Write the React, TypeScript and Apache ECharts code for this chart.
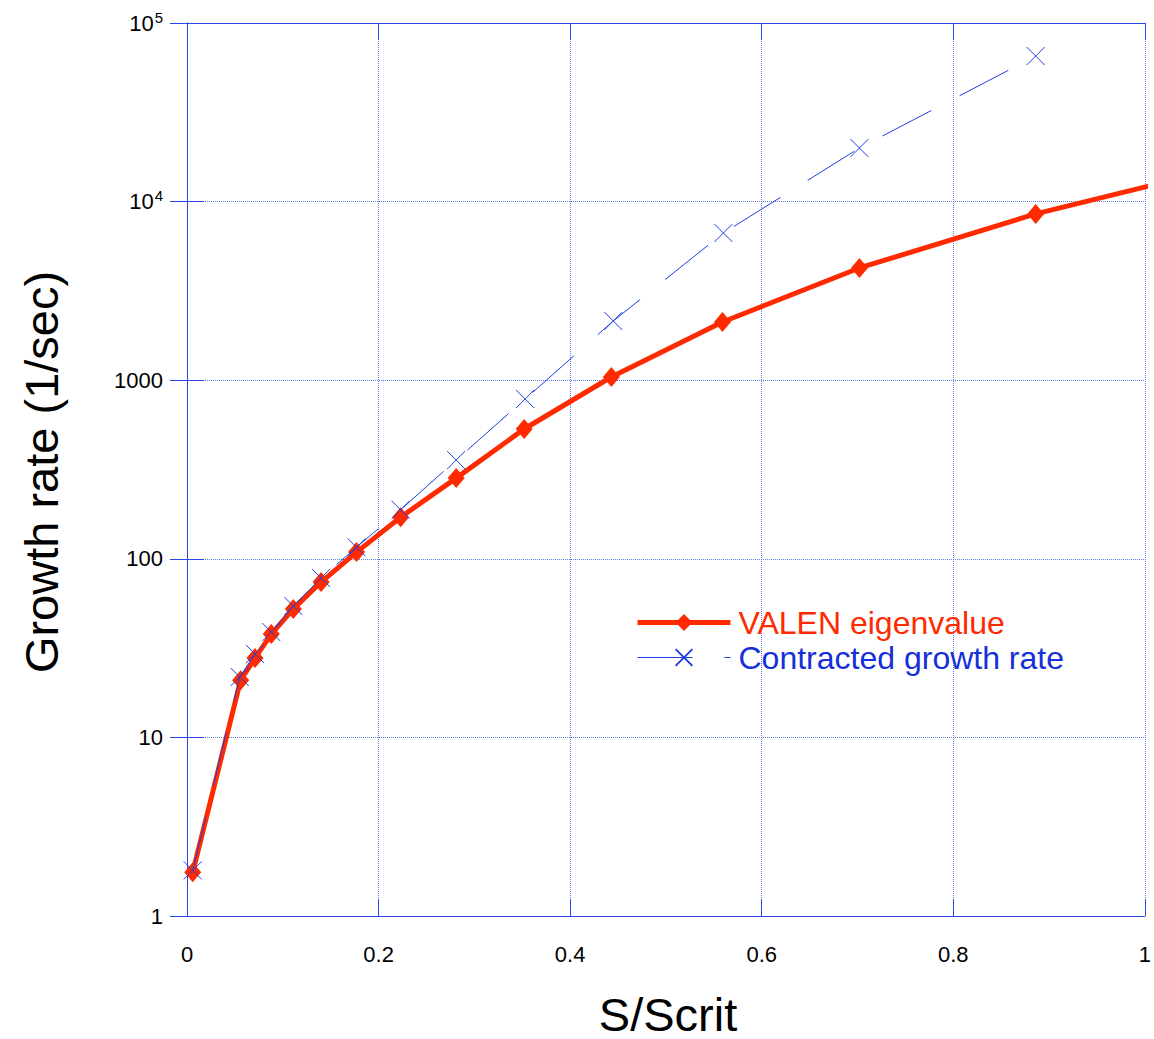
import React, { useEffect, useRef } from "react";
import * as echarts from "echarts";

const xValen = [0.006, 0.056, 0.071, 0.088, 0.111, 0.14, 0.177, 0.223, 0.281, 0.352, 0.443, 0.559, 0.702, 0.886, 1.116];
const yValen = [1.76, 20.9, 27.8, 37.9, 52.4, 74.1, 109, 171, 283, 533, 1042, 2118, 4250, 8530, 17200];
const xContr = [0.006, 0.055, 0.071, 0.088, 0.111, 0.14, 0.177, 0.223, 0.281, 0.353, 0.445, 0.56, 0.702, 0.886];
const yContr = [1.8, 21.8, 29.3, 38.9, 54.4, 78.1, 116, 188, 357, 785, 2146, 6670, 19950, 65300];
const seriesNames = ["VALEN eigenvalue", "Contracted growth rate"];
const xTitle = "S/Scrit";
const yTitle = "Growth rate (1/sec)";

const RED = "#ff2a00";
const BLUE = "#1f3fe0";
const LEGEND_BLUE = "#1530d8";
const FRAME = "#2a48e6";
const GRID = "#5f76ec";
const FONT = "'Liberation Sans', Arial, Helvetica, sans-serif";

function yLabel(v: number): string {
  if (v >= 10000) {
    const e = Math.round(Math.log10(v));
    return "{b|10}{s|" + e + "}";
  }
  return "{b|" + String(Math.round(v)) + "}";
}

export default function App() {
  const ref = useRef<HTMLDivElement>(null);
  useEffect(() => {
    if (!ref.current) return;
    const chart = echarts.init(ref.current, null, { renderer: "svg" });
    const tick = { show: true, inside: true, length: 17, lineStyle: { color: FRAME, width: 1 } };
    const axLine = { show: true, lineStyle: { color: FRAME, width: 1 } };
    chart.setOption({
      animation: false,
      backgroundColor: "#ffffff",
      textStyle: { fontFamily: FONT },
      grid: { left: 187, right: 6, top: 23, bottom: 123, containLabel: false },
      legend: {
        orient: "vertical",
        left: 635,
        top: 605,
        padding: 0,
        itemWidth: 93,
        itemHeight: 21,
        itemGap: 0,
        data: [
          { name: seriesNames[0], textStyle: { color: RED }, lineStyle: { width: 5, color: RED } },
          { name: seriesNames[1], textStyle: { color: LEGEND_BLUE }, lineStyle: { width: 1, color: BLUE } },
        ],
        textStyle: { fontSize: 32, fontFamily: FONT, lineHeight: 35, padding: [0, 0, 0, 3] },
      },
      xAxis: [
        {
          type: "value",
          min: 0,
          max: 1,
          interval: 0.2,
          axisLine: axLine,
          axisTick: tick,
          axisLabel: { color: "#000", fontSize: 22, margin: 27, fontFamily: FONT },
          splitLine: { show: true, lineStyle: { color: GRID, type: "dotted", width: 1 } },
        },
        {
          type: "value",
          position: "top",
          min: 0,
          max: 1,
          interval: 0.2,
          axisLine: axLine,
          axisTick: tick,
          axisLabel: { show: false },
          splitLine: { show: false },
        },
      ],
      yAxis: [
        {
          type: "log",
          logBase: 10,
          min: 1,
          max: 100000,
          axisLine: axLine,
          axisTick: tick,
          axisLabel: {
            color: "#000",
            margin: 24,
            formatter: yLabel,
            rich: {
              b: { fontSize: 22, fontFamily: FONT, color: "#000" },
              s: { fontSize: 15, fontFamily: FONT, color: "#000", verticalAlign: "bottom", padding: [0, 0, 12, 1] },
            },
          },
          splitLine: { show: true, lineStyle: { color: GRID, type: "dotted", width: 1 } },
          minorTick: { show: false },
        },
        {
          type: "log",
          logBase: 10,
          position: "right",
          min: 1,
          max: 100000,
          axisLine: axLine,
          axisTick: tick,
          axisLabel: { show: false },
          splitLine: { show: false },
        },
      ],
      series: [
        {
          name: seriesNames[0],
          type: "line",
          xAxisIndex: 0,
          yAxisIndex: 0,
          clip: true,
          data: xValen.map((x, i) => [x, yValen[i]]),
          symbol: "diamond",
          symbolSize: [17, 20],
          itemStyle: { color: RED },
          lineStyle: { color: RED, width: 5 },
          z: 2,
        },
        {
          name: seriesNames[1],
          type: "line",
          xAxisIndex: 0,
          yAxisIndex: 0,
          clip: true,
          data: xContr.map((x, i) => [x, yContr[i]]),
          symbol: "path://M0,0L10,10M10,0L0,10",
          symbolSize: 18,
          itemStyle: { color: BLUE, borderColor: BLUE, borderWidth: 1 },
          lineStyle: { color: BLUE, width: 1, type: [55, 32] },
          z: 3,
        },
      ],
      graphic: [
        {
          type: "text",
          x: 668,
          y: 1014,
          style: {
            text: xTitle,
            font: "47px " + FONT,
            lineHeight: 40,
            fill: "#000",
            align: "center",
            verticalAlign: "middle",
          },
        },
        {
          type: "text",
          x: 41,
          y: 472,
          rotation: Math.PI / 2,
          style: { text: yTitle, font: "47px " + FONT, fill: "#000", align: "center", verticalAlign: "middle" },
        },
      ],
    });
    return () => chart.dispose();
  }, []);
  return (
    <div
      ref={ref}
      style={{ position: "absolute", left: 0, top: 0, width: 1154, height: 1039, background: "#fff" }}
    />
  );
}
